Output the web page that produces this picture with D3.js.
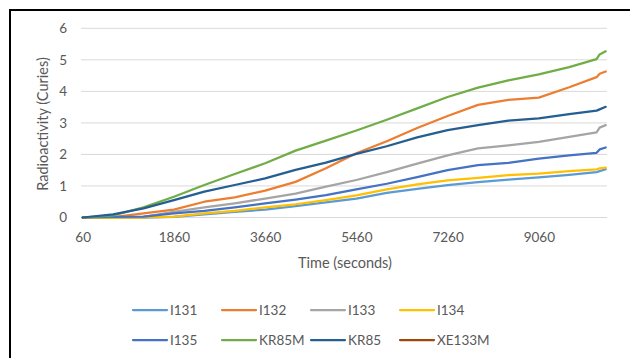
<!DOCTYPE html>
<html>
<head>
<meta charset="utf-8">
<script src="https://cdn.jsdelivr.net/npm/d3@7"></script>
<style>
  body { margin: 0; background: #fff; }
  text { font-family: Lato, "Open Sans", sans-serif; fill: #595959; }
</style>
</head>
<body>
<div id="chart"></div>
<script>
// time in seconds (category axis in the source, labels every 1800 s)
const times = [60, 660, 1260, 1860, 2460, 3060, 3660, 4260, 4860, 5460, 6060, 6660, 7260, 7860, 8460, 9060, 9660, 10200, 10260, 10380];
const tickTimes = [60, 1860, 3660, 5460, 7260, 9060];
const yTicks = [0, 1, 2, 3, 4, 5, 6];

const i131 = [0, 0, 0, 0.02, 0.10, 0.18, 0.25, 0.36, 0.48, 0.60, 0.78, 0.91, 1.03, 1.12, 1.20, 1.27, 1.35, 1.44, 1.47, 1.53];
const i132 = [0, 0.01, 0.13, 0.25, 0.50, 0.64, 0.85, 1.13, 1.56, 2.04, 2.42, 2.84, 3.22, 3.57, 3.73, 3.80, 4.13, 4.45, 4.56, 4.63];
const i133 = [0, 0, 0.02, 0.18, 0.32, 0.45, 0.60, 0.76, 0.98, 1.19, 1.44, 1.71, 1.97, 2.19, 2.29, 2.40, 2.56, 2.70, 2.85, 2.93];
const i134 = [0, 0, 0, 0.03, 0.13, 0.21, 0.32, 0.42, 0.55, 0.70, 0.89, 1.05, 1.18, 1.26, 1.34, 1.39, 1.47, 1.53, 1.56, 1.58];
const i135 = [0, 0.02, 0.03, 0.13, 0.21, 0.32, 0.45, 0.57, 0.71, 0.89, 1.07, 1.28, 1.50, 1.66, 1.73, 1.87, 1.97, 2.05, 2.16, 2.22];
const kr85m = [0, 0.07, 0.32, 0.66, 1.03, 1.38, 1.72, 2.12, 2.44, 2.76, 3.10, 3.46, 3.82, 4.12, 4.35, 4.54, 4.77, 5.02, 5.17, 5.27];
const kr85 = [0, 0.10, 0.29, 0.55, 0.82, 1.03, 1.24, 1.51, 1.74, 2.02, 2.26, 2.54, 2.77, 2.93, 3.07, 3.14, 3.28, 3.39, 3.43, 3.51];
const xe133m = times.map(() => null); // no points plotted in the source

const seriesNames = ["I131", "I132", "I133", "I134", "I135", "KR85M", "KR85", "XE133M"];
const seriesValues = [i131, i132, i133, i134, i135, kr85m, kr85, xe133m];
const colors = ["#5B9BD5", "#ED7D31", "#A5A5A5", "#FFC000", "#4472C4", "#70AD47", "#255E91", "#9E480E"];

const width = 630, height = 358;

const svg = d3.select("#chart")
  .append("svg")
  .attr("width", width)
  .attr("height", height);

// chart border
svg.append("rect")
  .attr("x", 10)
  .attr("y", 10)
  .attr("width", 700)
  .attr("height", 500)
  .attr("fill", "none")
  .attr("stroke", "#000")
  .attr("stroke-width", 2);

const x = d3.scaleLinear().domain([60, 10380]).range([82.7, 605.7]);
const y = d3.scaleLinear().domain([0, 6]).range([217.5, 28.3]);

// gridlines
svg.append("g")
  .selectAll("line")
  .data(yTicks)
  .join("line")
  .attr("x1", 81)
  .attr("x2", 607)
  .attr("y1", d => y(d))
  .attr("y2", d => y(d))
  .attr("stroke", "#d9d9d9")
  .attr("stroke-width", 1);

// y axis labels
const yAxis = svg.append("g")
  .attr("transform", "translate(67,0)")
  .call(d3.axisLeft(y).tickValues(yTicks).tickSize(0).tickPadding(0).tickFormat(d3.format("d")));
yAxis.select(".domain").remove();
yAxis.selectAll("text")
  .style("font-size", "13.5px")
  .style("font-family", "Lato, sans-serif")
  .attr("fill", "#595959");

// x axis labels
const xAxis = svg.append("g")
  .attr("transform", "translate(0,232)")
  .call(d3.axisBottom(x).tickValues(tickTimes).tickSize(0).tickPadding(0).tickFormat(d3.format("d")));
xAxis.select(".domain").remove();
xAxis.selectAll("text")
  .style("font-size", "13.5px")
  .style("font-family", "Lato, sans-serif")
  .attr("fill", "#595959");

// axis titles
svg.append("text")
  .attr("transform", "translate(48,124) rotate(-90)")
  .attr("text-anchor", "middle")
  .style("font-size", "14.5px")
  .text("Radioactivity (Curies)");

svg.append("text")
  .attr("x", 345)
  .attr("y", 268)
  .attr("text-anchor", "middle")
  .style("font-size", "14.5px")
  .text("Time (seconds)");

// lines
const line = d3.line()
  .defined(d => d.v != null)
  .x(d => x(d.t))
  .y(d => y(d.v));

seriesValues.forEach(function (vals, i) {
  svg.append("path")
    .datum(times.map((t, j) => ({ t: t, v: vals[j] })))
    .attr("fill", "none")
    .attr("stroke", colors[i])
    .attr("stroke-width", 2.25)
    .attr("stroke-linejoin", "round")
    .attr("stroke-linecap", "round")
    .attr("d", line);
});

// handmade legend, 4 per row
const legend = svg.append("g")
  .selectAll("g")
  .data(seriesNames)
  .join("g")
  .attr("transform", (d, i) => `translate(${133 + (i % 4) * 89},${i < 4 ? 310 : 340})`);

legend.append("line")
  .attr("x1", 0)
  .attr("x2", 34)
  .attr("stroke", (d, i) => colors[i])
  .attr("stroke-width", 2.25)
  .attr("stroke-linecap", "round");

legend.append("text")
  .attr("x", 37)
  .attr("y", 0)
  .attr("dy", "0.35em")
  .style("font-size", "13.5px")
  .text(d => d);
</script>
</body>
</html>
